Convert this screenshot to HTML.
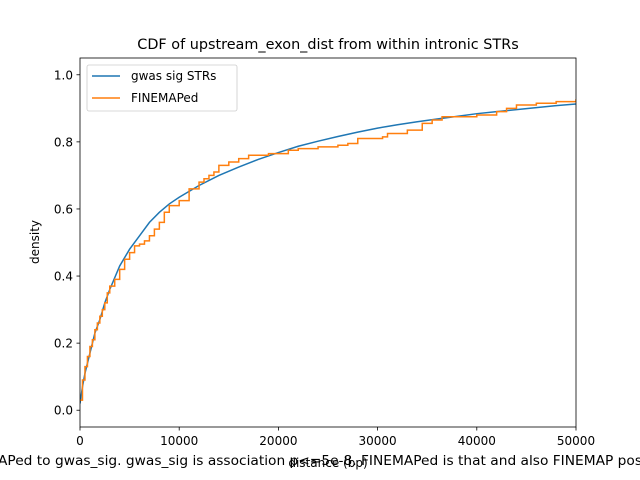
<!DOCTYPE html>
<html><head><meta charset="utf-8"><style>
body{margin:0;background:#fff}
svg{display:block;font-family:"DejaVu Sans","Liberation Sans",sans-serif}
</style></head><body>
<svg id="chart" width="640" height="480">
<rect width="640" height="480" fill="#fff"/>
<text x="328" y="49" font-size="14.4" text-anchor="middle">CDF of upstream_exon_dist from within intronic STRs</text>
<defs><clipPath id="cp"><rect x="80" y="58" width="496" height="369"/></clipPath></defs>
<g id="ticks"></g>
<g clip-path="url(#cp)"><path id="blue" fill="none" stroke="#1f77b4" stroke-width="1.5"/><path id="orange" fill="none" stroke="#ff7f0e" stroke-width="1.5"/></g>
<rect x="80" y="58" width="496" height="369" fill="none" stroke="#000" stroke-width="0.8"/>
<text x="328" y="467" font-size="12" text-anchor="middle">distance (bp)</text>
<text x="39" y="242" font-size="12" text-anchor="middle" transform="rotate(-90 39 242)">density</text>
<text x="-2" y="465" font-size="13.7" textLength="644" lengthAdjust="spacingAndGlyphs">APed to gwas_sig. gwas_sig is association p&lt;=5e-8. FINEMAPed is that and also FINEMAP pos</text>
<g>
<rect x="87" y="65" width="150" height="46" rx="2" fill="#fff" fill-opacity="0.8" stroke="#ccc" stroke-width="0.8"/>
<line x1="92" y1="76" x2="120" y2="76" stroke="#1f77b4" stroke-width="1.5"/>
<text x="131" y="80" font-size="12">gwas sig STRs</text>
<line x1="92" y1="98" x2="120" y2="98" stroke="#ff7f0e" stroke-width="1.5"/>
<text x="131" y="102" font-size="12">FINEMAPed</text>
</g>
</svg>
<script>
const blueX=[0,250,500,1000,1500,2000,2500,3000,4000,5000,6000,7000,8000,9000,10000,12000,14000,16000,18000,20000,22000,24000,26000,28000,30000,32000,34000,36000,38000,40000,42000,44000,46000,48000,50000];
const blueY=[0.02,0.07,0.11,0.17,0.23,0.27,0.32,0.36,0.43,0.48,0.52,0.56,0.59,0.615,0.635,0.67,0.70,0.725,0.748,0.768,0.787,0.802,0.816,0.829,0.841,0.851,0.86,0.868,0.876,0.884,0.89,0.896,0.902,0.908,0.913];
const orangeX=[0,250,500,750,1000,1250,1500,1750,2000,2250,2500,2750,3000,3500,4000,4500,5000,5500,6000,6500,7000,7500,8000,8500,9000,10000,11000,12000,12500,13000,13500,14000,15000,16000,17000,19000,21000,22000,24000,26000,27000,28000,30500,31000,33000,34500,35500,36500,40000,42000,43000,44000,46000,48000,50000];
const orangeY=[0.03,0.09,0.13,0.16,0.19,0.21,0.24,0.26,0.28,0.30,0.32,0.35,0.37,0.39,0.42,0.45,0.47,0.49,0.495,0.505,0.52,0.54,0.56,0.59,0.61,0.625,0.66,0.68,0.69,0.70,0.71,0.73,0.74,0.75,0.76,0.765,0.775,0.78,0.785,0.79,0.795,0.81,0.815,0.825,0.835,0.855,0.865,0.875,0.88,0.89,0.90,0.91,0.915,0.92,0.925];
const xTicks=[0,10000,20000,30000,40000,50000];
const yTicks=[0,0.2,0.4,0.6,0.8,1.0];
const sx=v=>80+v/50000*496;
const sy=v=>427-(v+0.05)/1.1*369;
let d='';blueX.forEach((x,i)=>{d+=(i?'L':'M')+sx(x)+','+sy(blueY[i]);});
document.getElementById('blue').setAttribute('d',d);
d='';orangeX.forEach((x,i)=>{if(i===0)d='M'+sx(x)+','+sy(orangeY[i]);else d+='L'+sx(x)+','+sy(orangeY[i-1])+'L'+sx(x)+','+sy(orangeY[i]);});
d+='L'+sx(51000)+','+sy(orangeY[orangeY.length-1]);
document.getElementById('orange').setAttribute('d',d);
const g=document.getElementById('ticks');const NS='http://www.w3.org/2000/svg';
xTicks.forEach(t=>{const l=document.createElementNS(NS,'line');


l.setAttribute('x1',sx(t));l.setAttribute('x2',sx(t));l.setAttribute('y1',427);l.setAttribute('y2',430.5);l.setAttribute('stroke','#000');l.setAttribute('stroke-width','0.8');g.appendChild(l);
const tx=document.createElementNS(NS,'text');


tx.setAttribute('x',sx(t));tx.setAttribute('y',445);tx.setAttribute('font-size','12');tx.setAttribute('text-anchor','middle');tx.textContent=t;g.appendChild(tx);});
yTicks.forEach(t=>{const l=document.createElementNS(NS,'line');


l.setAttribute('x1',76.5);l.setAttribute('x2',80);l.setAttribute('y1',sy(t));l.setAttribute('y2',sy(t));l.setAttribute('stroke','#000');l.setAttribute('stroke-width','0.8');g.appendChild(l);
const tx=document.createElementNS(NS,'text');


tx.setAttribute('x',73);tx.setAttribute('y',sy(t)+4.5);tx.setAttribute('font-size','12');tx.setAttribute('text-anchor','end');tx.textContent=t.toFixed(1);g.appendChild(tx);});
</script>
</body></html>
